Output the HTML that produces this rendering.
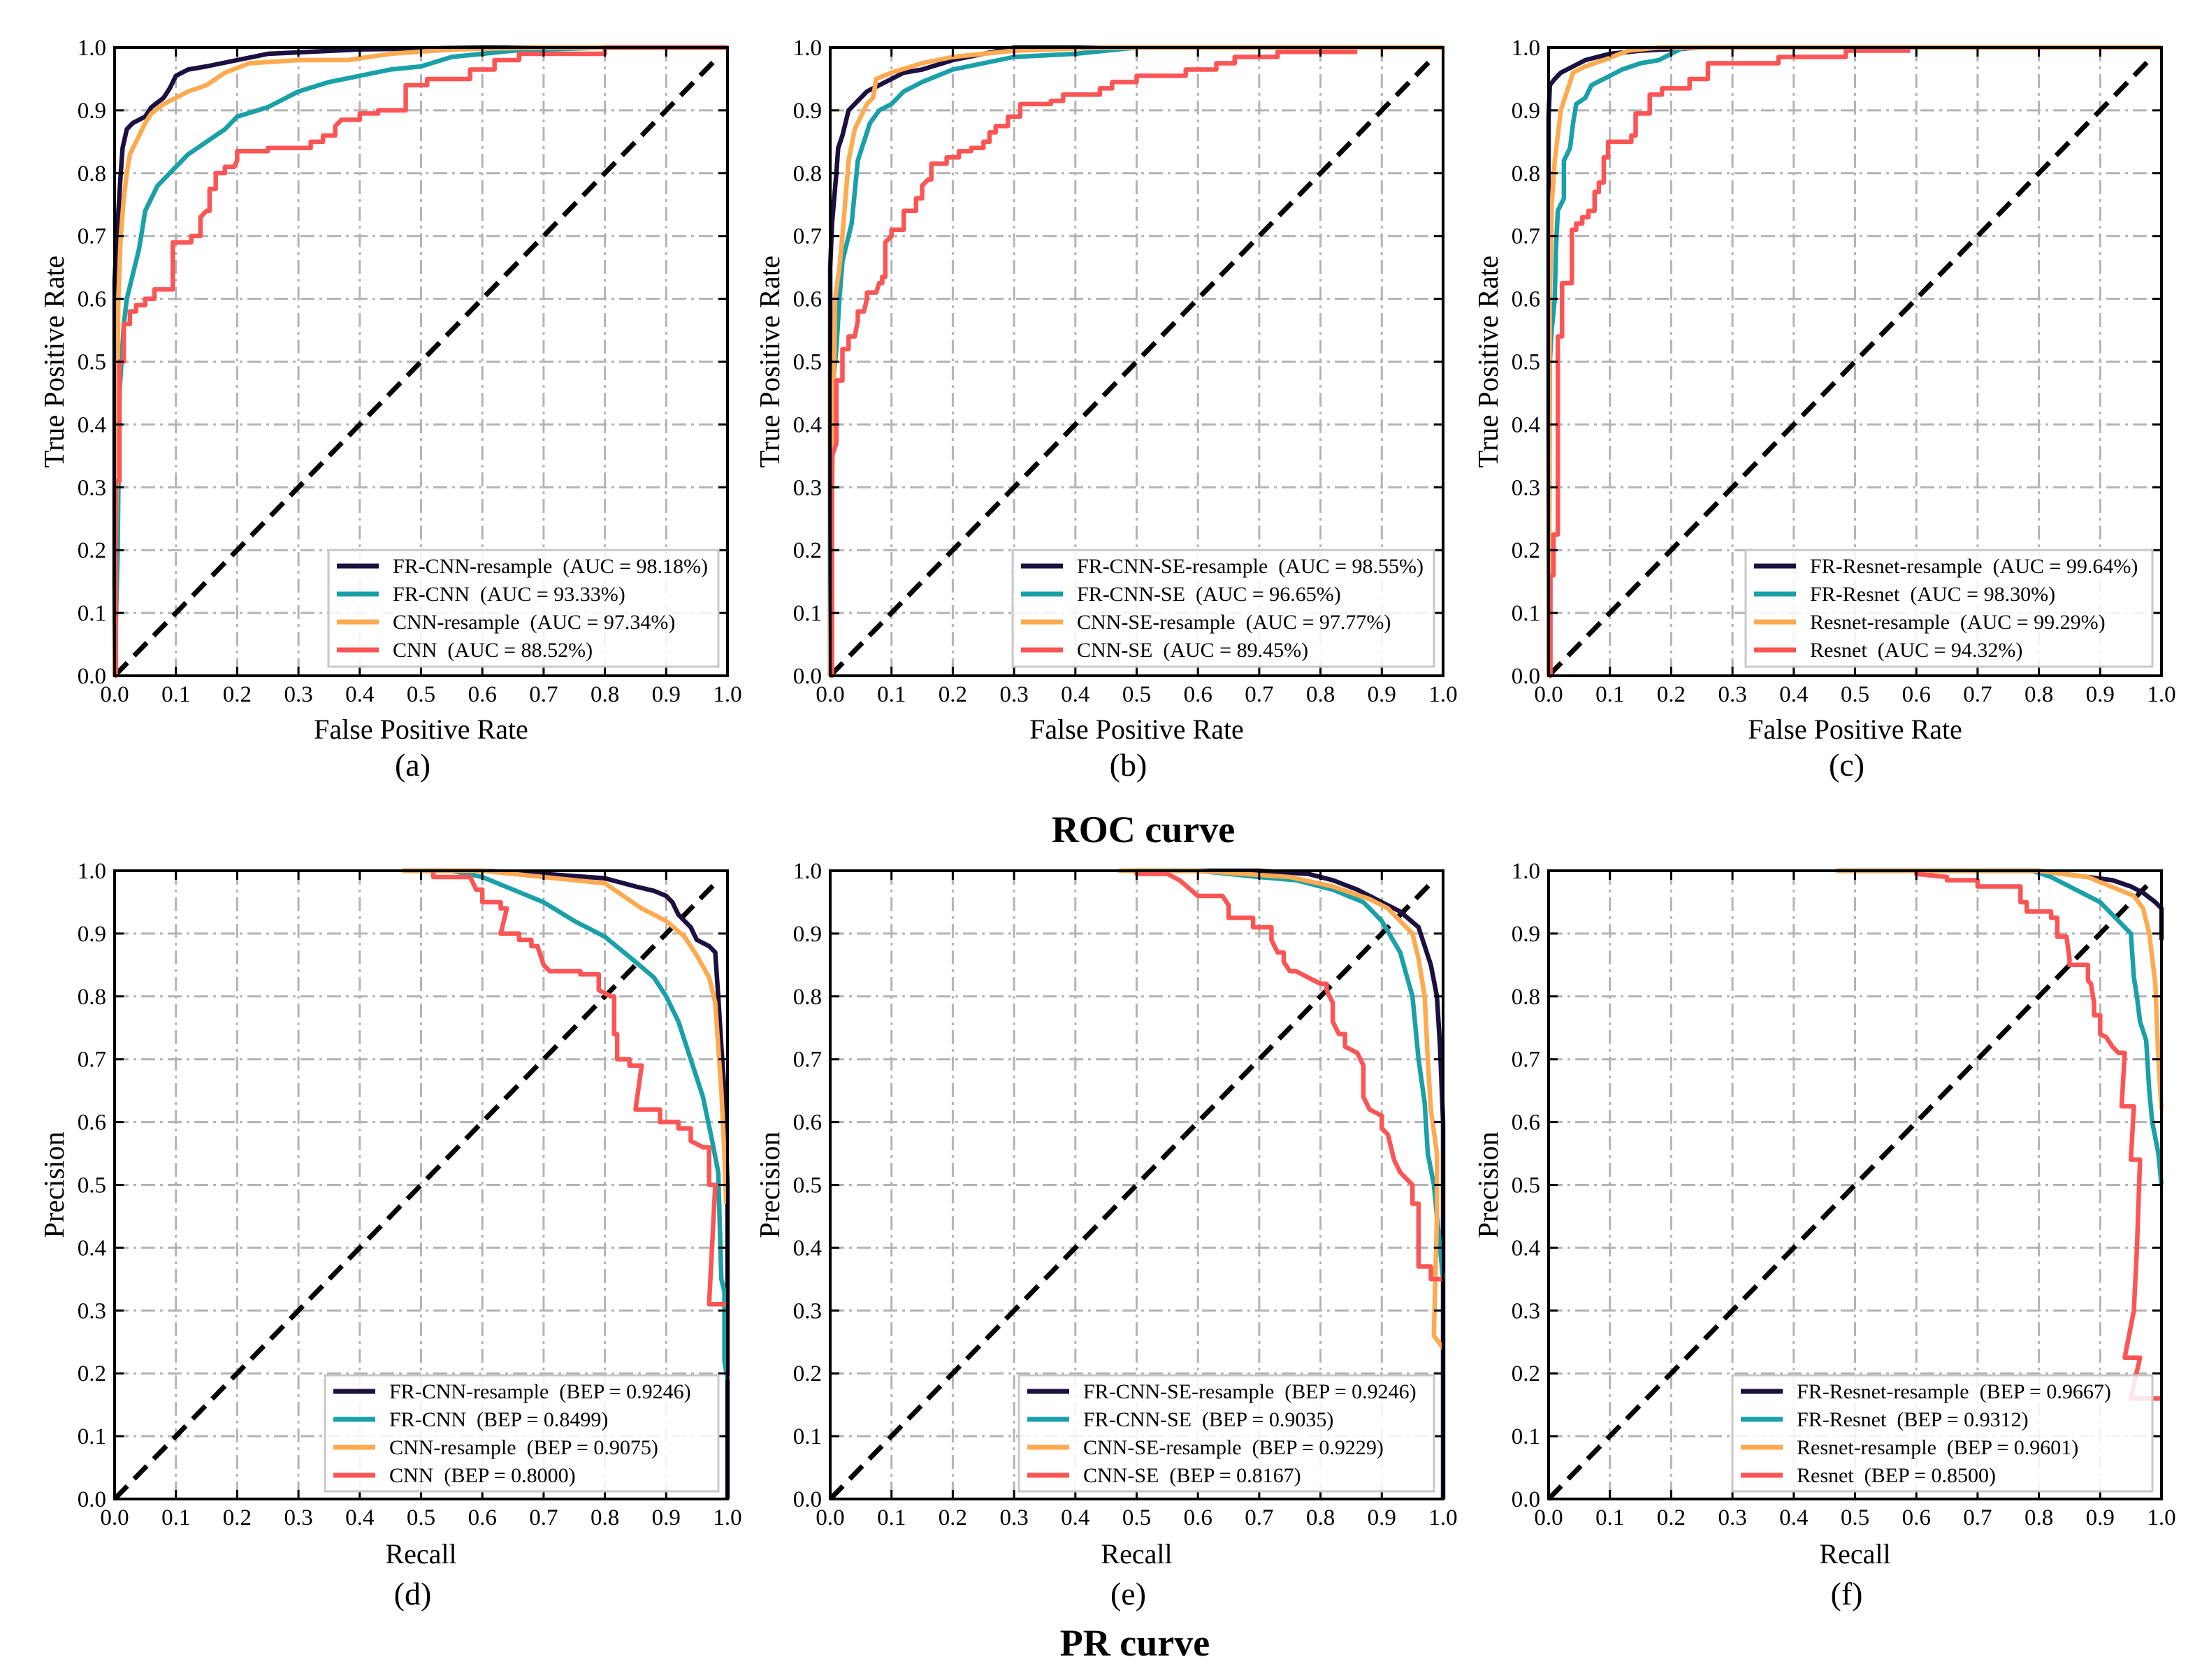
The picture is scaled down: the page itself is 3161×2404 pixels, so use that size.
<!DOCTYPE html>
<html><head><meta charset="utf-8">
<style>
html,body{margin:0;padding:0;background:#fff;}
svg{display:block;font-family:"Liberation Serif","DejaVu Serif",serif;}
</style></head>
<body>
<svg id="fig" width="3161" height="2404" viewBox="0 0 3161 2404" xmlns="http://www.w3.org/2000/svg">
<rect x="0" y="0" width="3161" height="2404" fill="#fff"/>
<text x="1636" y="1205" font-size="54" font-weight="bold" text-anchor="middle">ROC curve</text>
<text x="1624" y="2369" font-size="54" font-weight="bold" text-anchor="middle">PR curve</text>
</svg>
<script>
// ---------- data ----------
const tickValues = [0,0.1,0.2,0.3,0.4,0.5,0.6,0.7,0.8,0.9,1.0];
const tickLabels = ["0.0","0.1","0.2","0.3","0.4","0.5","0.6","0.7","0.8","0.9","1.0"];
const seriesColors = ["#1c1040","#1aa0a8","#fdaa50","#fb5555"];

// Panel a (ROC)
const aNavyX=[0,0,0.005,0.01,0.013,0.02,0.03,0.05,0.06,0.08,0.09,0.1,0.12,0.15,0.2,0.25,0.4,0.6,1];
const aNavyY=[0,0.63,0.72,0.8,0.84,0.87,0.88,0.89,0.905,0.92,0.935,0.955,0.965,0.97,0.98,0.99,0.997,1,1];
const aTealX=[0,0.005,0.008,0.015,0.02,0.03,0.04,0.05,0.06,0.07,0.09,0.1,0.12,0.15,0.18,0.2,0.25,0.3,0.35,0.4,0.45,0.5,0.55,0.65,0.8,1];
const aTealY=[0,0.2,0.45,0.56,0.6,0.64,0.68,0.74,0.76,0.78,0.8,0.81,0.83,0.85,0.87,0.89,0.905,0.93,0.945,0.955,0.965,0.97,0.985,0.995,1,1];
const aOrangeX=[0,0.003,0.006,0.01,0.015,0.02,0.025,0.04,0.05,0.06,0.08,0.1,0.12,0.15,0.18,0.22,0.3,0.38,0.45,0.55,0.7,1];
const aOrangeY=[0,0.3,0.6,0.7,0.76,0.8,0.83,0.86,0.88,0.895,0.91,0.92,0.93,0.94,0.96,0.975,0.98,0.98,0.99,0.997,1,1];
const aRedX=[0,0.002,0.002,0.008,0.008,0.015,0.015,0.025,0.025,0.035,0.035,0.05,0.05,0.065,0.065,0.095,0.095,0.125,0.125,0.14,0.14,0.15,0.155,0.155,0.165,0.165,0.18,0.18,0.195,0.2,0.2,0.25,0.25,0.32,0.32,0.34,0.34,0.36,0.36,0.37,0.4,0.4,0.43,0.43,0.475,0.475,0.51,0.51,0.58,0.58,0.62,0.62,0.66,0.66,0.8,0.8,1];
const aRedY=[0,0,0.31,0.31,0.5,0.5,0.56,0.56,0.58,0.58,0.59,0.59,0.6,0.6,0.615,0.615,0.69,0.69,0.7,0.7,0.73,0.74,0.74,0.775,0.775,0.8,0.8,0.81,0.81,0.82,0.835,0.835,0.84,0.84,0.85,0.85,0.86,0.86,0.875,0.885,0.885,0.895,0.895,0.9,0.9,0.94,0.94,0.95,0.95,0.965,0.965,0.98,0.98,0.99,0.99,1,1];

// Panel b (ROC)
const bNavyX=[0,0,0.003,0.01,0.013,0.02,0.025,0.03,0.04,0.05,0.06,0.08,0.1,0.12,0.15,0.2,0.25,0.3,1];
const bNavyY=[0,0.65,0.72,0.8,0.84,0.86,0.88,0.9,0.91,0.92,0.93,0.94,0.95,0.96,0.965,0.98,0.99,1,1];
const bTealX=[0,0.002,0.005,0.01,0.015,0.02,0.03,0.035,0.04,0.045,0.055,0.065,0.08,0.1,0.12,0.15,0.2,0.25,0.3,0.4,0.5,1];
const bTealY=[0,0.4,0.47,0.52,0.6,0.66,0.7,0.72,0.77,0.82,0.85,0.88,0.9,0.91,0.93,0.945,0.965,0.975,0.985,0.99,1,1];
const bOrangeX=[0,0.002,0.005,0.008,0.015,0.02,0.025,0.03,0.04,0.05,0.06,0.07,0.075,0.1,0.15,0.2,0.3,0.45,1];
const bOrangeY=[0,0.25,0.4,0.6,0.65,0.7,0.76,0.82,0.87,0.89,0.91,0.92,0.95,0.96,0.975,0.985,0.995,1,1];
const bRedX=[0,0.003,0.003,0.01,0.01,0.02,0.02,0.03,0.03,0.04,0.045,0.045,0.055,0.06,0.06,0.075,0.08,0.085,0.085,0.09,0.09,0.1,0.1,0.12,0.12,0.14,0.14,0.15,0.15,0.16,0.165,0.165,0.19,0.19,0.21,0.21,0.23,0.23,0.25,0.25,0.26,0.26,0.27,0.27,0.29,0.29,0.31,0.31,0.36,0.36,0.38,0.38,0.44,0.44,0.46,0.46,0.5,0.5,0.58,0.58,0.63,0.63,0.66,0.66,0.73,0.73,0.86];
const bRedY=[0,0,0.35,0.37,0.47,0.47,0.52,0.52,0.54,0.54,0.565,0.58,0.58,0.6,0.61,0.61,0.625,0.625,0.635,0.635,0.69,0.7,0.71,0.71,0.74,0.74,0.76,0.76,0.78,0.79,0.79,0.815,0.815,0.825,0.825,0.835,0.835,0.84,0.84,0.85,0.85,0.865,0.865,0.875,0.875,0.89,0.89,0.91,0.91,0.915,0.915,0.925,0.925,0.935,0.935,0.945,0.945,0.955,0.955,0.965,0.965,0.975,0.975,0.985,0.985,0.993,0.993];

// Panel c (ROC)
const cNavyX=[0,0,0.002,0.01,0.02,0.04,0.06,0.1,0.15,0.25,1];
const cNavyY=[0,0.89,0.94,0.95,0.96,0.97,0.98,0.99,0.995,1,1];
const cTealX=[0,0.002,0.005,0.01,0.012,0.015,0.025,0.025,0.035,0.04,0.045,0.06,0.07,0.09,0.12,0.15,0.18,0.2,0.22,1];
const cTealY=[0,0.5,0.55,0.6,0.68,0.74,0.76,0.82,0.84,0.88,0.91,0.92,0.94,0.95,0.965,0.975,0.98,0.99,1,1];
const cOrangeX=[0,0.002,0.005,0.01,0.015,0.02,0.03,0.04,0.06,0.09,0.13,0.18,1];
const cOrangeY=[0,0.6,0.75,0.82,0.86,0.9,0.93,0.96,0.97,0.98,0.995,1,1];
const cRedX=[0,0.003,0.003,0.008,0.008,0.015,0.015,0.022,0.022,0.038,0.038,0.045,0.045,0.055,0.055,0.065,0.065,0.075,0.075,0.082,0.082,0.09,0.09,0.097,0.097,0.135,0.135,0.142,0.142,0.165,0.165,0.185,0.185,0.23,0.23,0.26,0.26,0.375,0.375,0.485,0.485,0.59];
const cRedY=[0,0,0.16,0.16,0.225,0.225,0.54,0.54,0.625,0.625,0.71,0.71,0.72,0.72,0.73,0.73,0.74,0.74,0.77,0.77,0.785,0.785,0.825,0.825,0.85,0.85,0.86,0.86,0.895,0.895,0.925,0.925,0.935,0.935,0.95,0.95,0.975,0.975,0.985,0.985,0.995,0.995];

// Panel d (PR)
const dNavyX=[0.47,0.6,0.7,0.8,0.85,0.88,0.9,0.91,0.92,0.94,0.95,0.97,0.98,0.985,0.99,0.995,1,1];
const dNavyY=[1,1,0.995,0.988,0.975,0.968,0.96,0.95,0.93,0.91,0.89,0.88,0.87,0.8,0.72,0.65,0.5,0];
const dTealX=[0.47,0.55,0.6,0.65,0.7,0.75,0.8,0.85,0.88,0.9,0.92,0.94,0.96,0.975,0.985,0.99,0.995,0.995,1];
const dTealY=[1,1,0.99,0.97,0.95,0.92,0.895,0.855,0.83,0.8,0.76,0.7,0.64,0.57,0.52,0.35,0.33,0.22,0.19];
const dOrangeX=[0.47,0.6,0.7,0.75,0.8,0.83,0.86,0.9,0.93,0.95,0.97,0.98,0.985,0.99,0.995,0.998];
const dOrangeY=[1,1,0.99,0.985,0.98,0.96,0.94,0.92,0.895,0.865,0.83,0.79,0.72,0.65,0.55,0.47];
const dRedX=[0.52,0.52,0.58,0.59,0.6,0.6,0.63,0.63,0.64,0.63,0.66,0.66,0.68,0.68,0.69,0.7,0.71,0.76,0.76,0.79,0.79,0.81,0.815,0.815,0.82,0.82,0.84,0.84,0.86,0.85,0.89,0.89,0.92,0.92,0.94,0.94,0.96,0.97,0.97,0.98,0.97,1];
const dRedY=[1,0.99,0.99,0.97,0.97,0.95,0.95,0.94,0.94,0.9,0.9,0.89,0.89,0.88,0.88,0.85,0.84,0.84,0.835,0.835,0.81,0.8,0.8,0.74,0.74,0.7,0.7,0.69,0.69,0.62,0.62,0.6,0.6,0.59,0.59,0.57,0.56,0.56,0.5,0.5,0.31,0.31];

// Panel e (PR)
const eNavyX=[0.5,0.7,0.78,0.82,0.86,0.9,0.93,0.96,0.97,0.98,0.99,0.995,1,1];
const eNavyY=[1,1,0.995,0.985,0.97,0.95,0.935,0.91,0.88,0.85,0.8,0.72,0.6,0];
const eTealX=[0.48,0.6,0.7,0.76,0.82,0.87,0.9,0.93,0.95,0.96,0.97,0.975,0.985,0.99,1];
const eTealY=[1,1,0.99,0.985,0.97,0.95,0.92,0.87,0.8,0.7,0.63,0.55,0.5,0.45,0.35];
const eOrangeX=[0.47,0.6,0.75,0.82,0.88,0.91,0.93,0.95,0.96,0.97,0.975,0.98,0.99,0.99,0.985,1];
const eOrangeY=[1,1,0.99,0.975,0.955,0.94,0.92,0.9,0.86,0.8,0.7,0.62,0.55,0.45,0.26,0.24];
const eRedX=[0.5,0.5,0.55,0.56,0.57,0.6,0.64,0.65,0.65,0.69,0.69,0.72,0.72,0.73,0.74,0.74,0.75,0.76,0.78,0.8,0.81,0.81,0.82,0.82,0.83,0.84,0.84,0.86,0.87,0.87,0.88,0.9,0.9,0.91,0.92,0.93,0.95,0.95,0.96,0.96,0.98,0.98,1];
const eRedY=[1,0.995,0.995,0.99,0.985,0.96,0.96,0.945,0.925,0.925,0.91,0.91,0.89,0.87,0.87,0.855,0.84,0.84,0.83,0.82,0.82,0.81,0.79,0.76,0.74,0.74,0.72,0.71,0.69,0.64,0.62,0.61,0.59,0.58,0.54,0.52,0.5,0.47,0.47,0.37,0.37,0.35,0.35];

// Panel f (PR)
const fNavyX=[0.47,0.8,0.88,0.92,0.95,0.97,0.99,1,1];
const fNavyY=[1,1,0.99,0.985,0.975,0.965,0.95,0.94,0.89];
const fTealX=[0.47,0.79,0.82,0.86,0.9,0.93,0.95,0.955,0.96,0.965,0.975,0.98,0.985,0.995,1];
const fTealY=[1,1,0.99,0.97,0.95,0.92,0.9,0.83,0.8,0.76,0.73,0.65,0.6,0.55,0.5];
const fOrangeX=[0.47,0.8,0.88,0.93,0.955,0.97,0.98,0.99,0.995,1];
const fOrangeY=[1,1,0.99,0.97,0.96,0.94,0.9,0.82,0.7,0.62];
const fRedX=[0.6,0.6,0.65,0.65,0.7,0.7,0.77,0.77,0.78,0.78,0.82,0.82,0.83,0.83,0.845,0.85,0.85,0.88,0.88,0.885,0.89,0.89,0.9,0.9,0.91,0.92,0.93,0.94,0.935,0.955,0.95,0.965,0.96,0.955,0.94,0.965,0.95,1];
const fRedY=[1,0.995,0.99,0.985,0.985,0.975,0.975,0.95,0.95,0.935,0.935,0.925,0.925,0.895,0.895,0.86,0.85,0.85,0.825,0.82,0.79,0.77,0.77,0.74,0.735,0.72,0.71,0.71,0.625,0.625,0.54,0.54,0.4,0.3,0.225,0.225,0.16,0.16];

// legend labels
const legA=["FR-CNN-resample  (AUC = 98.18%)","FR-CNN  (AUC = 93.33%)","CNN-resample  (AUC = 97.34%)","CNN  (AUC = 88.52%)"];
const legB=["FR-CNN-SE-resample  (AUC = 98.55%)","FR-CNN-SE  (AUC = 96.65%)","CNN-SE-resample  (AUC = 97.77%)","CNN-SE  (AUC = 89.45%)"];
const legC=["FR-Resnet-resample  (AUC = 99.64%)","FR-Resnet  (AUC = 98.30%)","Resnet-resample  (AUC = 99.29%)","Resnet  (AUC = 94.32%)"];
const legD=["FR-CNN-resample  (BEP = 0.9246)","FR-CNN  (BEP = 0.8499)","CNN-resample  (BEP = 0.9075)","CNN  (BEP = 0.8000)"];
const legE=["FR-CNN-SE-resample  (BEP = 0.9246)","FR-CNN-SE  (BEP = 0.9035)","CNN-SE-resample  (BEP = 0.9229)","CNN-SE  (BEP = 0.8167)"];
const legF=["FR-Resnet-resample  (BEP = 0.9667)","FR-Resnet  (BEP = 0.9312)","Resnet-resample  (BEP = 0.9601)","Resnet  (BEP = 0.8500)"];

// ---------- drawing ----------
const NS="http://www.w3.org/2000/svg";
const svg=document.getElementById("fig");
const PW=877, PH=899;
function mk(tag, parent){const e=document.createElementNS(NS,tag);parent.appendChild(e);return e;}

const panels=[
 {id:"a",left:164,top:68,xl:"False Positive Rate",yl:"True Positive Rate",sx:[aNavyX,aTealX,aOrangeX,aRedX],sy:[aNavyY,aTealY,aOrangeY,aRedY],leg:legA,legLeft:306},
 {id:"b",left:1188,top:68,xl:"False Positive Rate",yl:"True Positive Rate",sx:[bNavyX,bTealX,bOrangeX,bRedX],sy:[bNavyY,bTealY,bOrangeY,bRedY],leg:legB,legLeft:261},
 {id:"c",left:2216,top:68,xl:"False Positive Rate",yl:"True Positive Rate",sx:[cNavyX,cTealX,cOrangeX,cRedX],sy:[cNavyY,cTealY,cOrangeY,cRedY],leg:legC,legLeft:282},
 {id:"d",left:164,top:1246,xl:"Recall",yl:"Precision",sx:[dNavyX,dTealX,dOrangeX,dRedX],sy:[dNavyY,dTealY,dOrangeY,dRedY],leg:legD,legLeft:301},
 {id:"e",left:1188,top:1246,xl:"Recall",yl:"Precision",sx:[eNavyX,eTealX,eOrangeX,eRedX],sy:[eNavyY,eTealY,eOrangeY,eRedY],leg:legE,legLeft:270},
 {id:"f",left:2216,top:1246,xl:"Recall",yl:"Precision",sx:[fNavyX,fTealX,fOrangeX,fRedX],sy:[fNavyY,fTealY,fOrangeY,fRedY],leg:legF,legLeft:263}
];
const seriesNames=["resample-fr","fr","resample","baseline"];

panels.forEach(p=>{
  const xs=v=>p.left+v*PW;
  const ys=v=>p.top+PH-v*PH;
  const g=mk("g",svg);
  
  
  tickValues.forEach((t,i)=>{
    if(i===0||i===tickValues.length-1) return;
    const gv=mk("line",g);
    
    
    gv.setAttribute("x1",xs(t));gv.setAttribute("x2",xs(t));gv.setAttribute("y1",p.top);gv.setAttribute("y2",p.top+PH);
    gv.setAttribute("stroke","#b4b4b4");gv.setAttribute("stroke-width","3");gv.setAttribute("stroke-dasharray","20,7,4,7");
    const gh=mk("line",g);
    
    
    gh.setAttribute("y1",ys(t));gh.setAttribute("y2",ys(t));gh.setAttribute("x1",p.left);gh.setAttribute("x2",p.left+PW);
    gh.setAttribute("stroke","#b4b4b4");gh.setAttribute("stroke-width","3");gh.setAttribute("stroke-dasharray","20,7,4,7");
  });
  const dg=mk("line",g);
  
  
  dg.setAttribute("x1",xs(0));dg.setAttribute("y1",ys(0));dg.setAttribute("x2",xs(0.985));dg.setAttribute("y2",ys(0.985));
  dg.setAttribute("stroke","#000");dg.setAttribute("stroke-width","7");dg.setAttribute("stroke-dasharray","26,14");
  for(let s=0;s<4;s++){
    const X=p.sx[s],Y=p.sy[s];
    const pts=X.map((x,i)=>xs(x).toFixed(1)+","+ys(Y[i]).toFixed(1)).join(" ");
    const pl=mk("polyline",g);
    
    
    pl.setAttribute("points",pts);pl.setAttribute("fill","none");
    pl.setAttribute("stroke",seriesColors[s]);pl.setAttribute("stroke-width","6.5");pl.setAttribute("stroke-linejoin","round");
  }
  const fr=mk("rect",g);
  
  
  fr.setAttribute("x",p.left);fr.setAttribute("y",p.top);fr.setAttribute("width",PW);fr.setAttribute("height",PH);
  fr.setAttribute("fill","none");fr.setAttribute("stroke","#000");fr.setAttribute("stroke-width","4");
  tickValues.forEach((t,i)=>{
    const tk=mk("path",g);
    
    
    const X=xs(t),Y=ys(t);
    tk.setAttribute("d",`M${X},${p.top+PH}v-13M${X},${p.top}v13M${p.left},${Y}h13M${p.left+PW},${Y}h-13`);
    tk.setAttribute("stroke","#000");tk.setAttribute("stroke-width","3");
    const xl=mk("text",g);
    
    
    xl.setAttribute("x",X);xl.setAttribute("y",p.top+PH+37);xl.setAttribute("font-size","33");xl.setAttribute("text-anchor","middle");
    xl.textContent=tickLabels[i];
    const yl=mk("text",g);
    
    
    yl.setAttribute("x",p.left-12);yl.setAttribute("y",Y+11);yl.setAttribute("font-size","33");yl.setAttribute("text-anchor","end");
    yl.textContent=tickLabels[i];
  });
  const xt=mk("text",g);
  
  
  xt.setAttribute("x",p.left+PW/2);xt.setAttribute("y",p.top+PH+(p.top<500?90:92));xt.setAttribute("font-size","40");xt.setAttribute("text-anchor","middle");
  xt.textContent=p.xl;
  const yt=mk("text",g);
  
  
  const cx=p.left-86, cy=p.top+PH/2;
  yt.setAttribute("x",cx);yt.setAttribute("y",cy);yt.setAttribute("font-size","41");yt.setAttribute("text-anchor","middle");
  yt.setAttribute("transform",`rotate(-90 ${cx} ${cy}) translate(0 13)`);
  yt.textContent=p.yl;
  const sub=mk("text",g);
  
  
  sub.setAttribute("x",p.left+PW/2-12);sub.setAttribute("y",p.top+PH+(p.top<500?143:151));sub.setAttribute("font-size","46");sub.setAttribute("text-anchor","middle");
  sub.textContent="("+p.id+")";
  const lg=mk("g",g);
  
  
  const L=p.left+p.legLeft, R=p.left+864, T=p.top+(p.top<500?719:722), B=p.top+(p.top<500?886:888);
  const bx=mk("rect",lg);
  
  
  bx.setAttribute("x",L);bx.setAttribute("y",T);bx.setAttribute("width",R-L);bx.setAttribute("height",B-T);
  bx.setAttribute("fill","#fff");bx.setAttribute("fill-opacity","0.85");bx.setAttribute("stroke","#c8c8c8");bx.setAttribute("stroke-width","3");
  for(let s=0;s<4;s++){
    const ry=T+23+s*40;
    const ln=mk("line",lg);
    
    
    ln.setAttribute("x1",L+12);ln.setAttribute("x2",L+72);ln.setAttribute("y1",ry);ln.setAttribute("y2",ry);
    ln.setAttribute("stroke",seriesColors[s]);ln.setAttribute("stroke-width","7");
    const tx=mk("text",lg);
    
    
    tx.setAttribute("x",L+92);tx.setAttribute("y",ry+10);tx.setAttribute("font-size","30");
    tx.setAttribute("style","white-space:pre");
    tx.textContent=p.leg[s];
  }
});
</script>
</body></html>
